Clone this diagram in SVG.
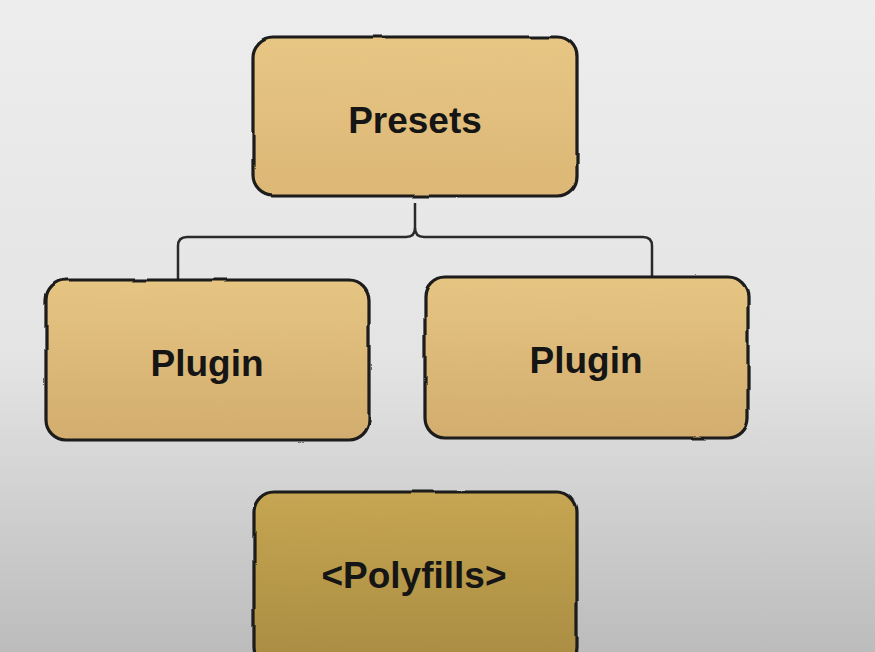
<svg xmlns="http://www.w3.org/2000/svg" width="875" height="652" viewBox="0 0 875 652">
  <defs>
    <linearGradient id="bg" x1="0" y1="0" x2="0" y2="1">
      <stop offset="0" stop-color="#ededed"/>
      <stop offset="0.55" stop-color="#e4e4e4"/>
      <stop offset="1" stop-color="#bcbcbc"/>
    </linearGradient>
    <linearGradient id="tan" x1="0" y1="0" x2="0" y2="1">
      <stop offset="0" stop-color="#e7c684"/>
      <stop offset="1" stop-color="#dcb776"/>
    </linearGradient>
    <linearGradient id="tan2" x1="0" y1="0" x2="0" y2="1">
      <stop offset="0" stop-color="#e6c583"/>
      <stop offset="1" stop-color="#d2ad6e"/>
    </linearGradient>
    <linearGradient id="olive" x1="0" y1="0" x2="0" y2="1">
      <stop offset="0" stop-color="#c6a652"/>
      <stop offset="1" stop-color="#a98c42"/>
    </linearGradient>
    <filter id="wobble" x="-5%" y="-5%" width="110%" height="110%">
      <feTurbulence type="fractalNoise" baseFrequency="0.025" numOctaves="1" seed="5" result="n"/>
      <feDisplacementMap in="SourceGraphic" in2="n" scale="3.5" xChannelSelector="R" yChannelSelector="G"/>
    </filter>
  </defs>
  <style>
    .box { stroke: #1a1a1a; stroke-width: 3.2; filter: url(#wobble); }
    .lbl { font-family: "Liberation Sans", Arial, sans-serif; font-weight: bold; font-size: 37px; fill: #151515; text-anchor: middle; }
    .conn { fill: none; stroke: #2a2a2a; stroke-width: 2.5; }
  </style>
  <rect width="875" height="652" fill="url(#bg)"/>

  <g id="connectors">
    <path class="conn" d="M415,203 V228 Q415,237 406,237 H187 Q178,237 178,246 V279"/>
    <path class="conn" d="M415,228 Q415,237 424,237 H643 Q652,237 652,246 V276"/>
  </g>

  <g id="presets">
    <rect class="box" x="253" y="37" width="324" height="159" rx="20" fill="url(#tan)"/>
    <text class="lbl" x="415" y="133">Presets</text>
  </g>
  <g id="plugin-left">
    <rect class="box" x="46" y="280" width="323" height="160" rx="20" fill="url(#tan2)"/>
    <text class="lbl" x="207" y="376">Plugin</text>
  </g>
  <g id="plugin-right">
    <rect class="box" x="425" y="277" width="323" height="161" rx="20" fill="url(#tan2)"/>
    <text class="lbl" x="586" y="373">Plugin</text>
  </g>
  <g id="polyfills">
    <rect class="box" x="254" y="492" width="323" height="175" rx="20" fill="url(#olive)"/>
    <text class="lbl" x="414" y="588">&lt;Polyfills&gt;</text>
  </g>
</svg>
